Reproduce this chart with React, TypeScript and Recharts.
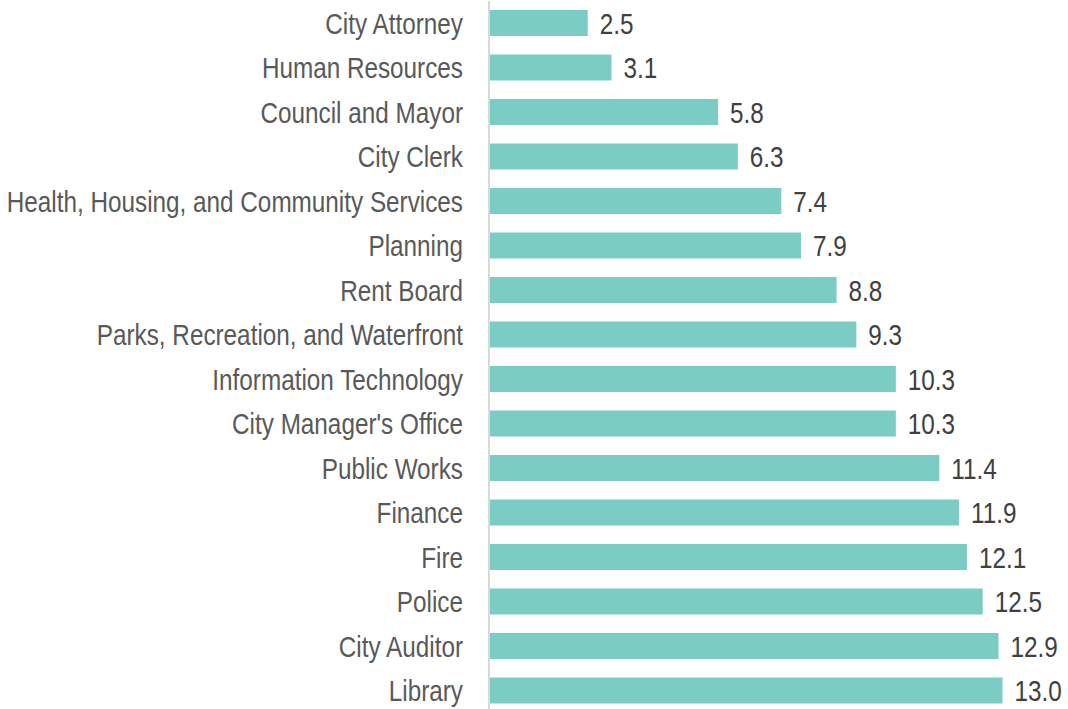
import React from 'react';
import { BarChart, Bar, XAxis, YAxis, LabelList } from 'recharts';

const departments = [
  'City Attorney',
  'Human Resources',
  'Council and Mayor',
  'City Clerk',
  'Health, Housing, and Community Services',
  'Planning',
  'Rent Board',
  'Parks, Recreation, and Waterfront',
  'Information Technology',
  "City Manager's Office",
  'Public Works',
  'Finance',
  'Fire',
  'Police',
  'City Auditor',
  'Library',
];

const values = [2.5, 3.1, 5.8, 6.3, 7.4, 7.9, 8.8, 9.3, 10.3, 10.3, 11.4, 11.9, 12.1, 12.5, 12.9, 13.0];

const BAR_COLOR = '#7BCDC4';
const FONT = '"Liberation Sans", Arial, sans-serif';
const FONT_SIZE = 30;
// squeeze the text sideways to look like a narrow face
const NARROW = 0.81;

const CategoryTick = (props: any) => {
  const { x, y, payload } = props;
  return (
    <g transform={`translate(${x},${y})`}>
      <text
        transform={`scale(${NARROW},1)`}
        x={0}
        y={0}
        dy="0.355em"
        textAnchor="end"
        fill="#595959"
        fontSize={FONT_SIZE}
        fontFamily={FONT}
      >
        {payload.value}
      </text>
    </g>
  );
};

const ValueLabel = (props: any) => {
  const { x, y, width, height, value } = props;
  const lx = Number(x) + Number(width) + 12;
  const ly = Number(y) + Number(height) / 2;
  return (
    <g transform={`translate(${lx},${ly})`}>
      <text
        transform={`scale(${NARROW},1)`}
        x={0}
        y={0}
        dy="0.355em"
        textAnchor="start"
        fill="#404040"
        fontSize={FONT_SIZE}
        fontFamily={FONT}
      >
        {Number(value).toFixed(1)}
      </text>
    </g>
  );
};

const App: React.FC = () => {
  const data = departments.map((name, i) => ({ name, value: values[i] }));

  return (
    <div style={{ position: 'absolute', left: 0, top: 0, width: 1068, height: 709, overflow: 'hidden', background: '#fff' }}>
      <BarChart
        width={1068}
        height={714}
        data={data}
        layout="vertical"
        margin={{ top: 1, right: 26, bottom: 1, left: 0 }}
      >
        <XAxis type="number" domain={[0, 14]} hide />
        <YAxis
          type="category"
          dataKey="name"
          width={489}
          tickLine={false}
          tickSize={0}
          tickMargin={26}
          axisLine={{ stroke: '#d9d9d9', strokeWidth: 2 }}
          tick={<CategoryTick />}
          interval={0}
        />
        <Bar dataKey="value" fill={BAR_COLOR} barSize={26} isAnimationActive={false}>
          <LabelList dataKey="value" content={<ValueLabel />} />
        </Bar>
      </BarChart>
    </div>
  );
};

export default App;
